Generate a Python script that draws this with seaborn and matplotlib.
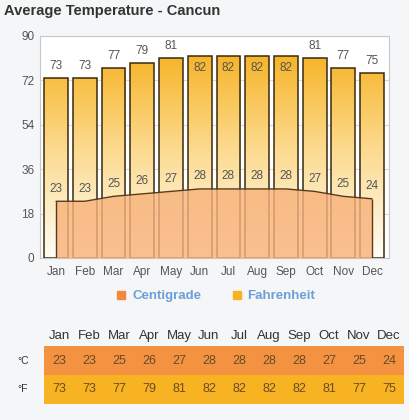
import numpy as np
import pandas as pd
import matplotlib
matplotlib.use("Agg")
import matplotlib.pyplot as plt
import seaborn as sns
from matplotlib.colors import LinearSegmentedColormap, ListedColormap
from matplotlib.lines import Line2D

months = ["Jan", "Feb", "Mar", "Apr", "May", "Jun", "Jul", "Aug", "Sep", "Oct", "Nov", "Dec"]
celsius = [23, 23, 25, 26, 27, 28, 28, 28, 28, 27, 25, 24]
fahrenheit = [73, 73, 77, 79, 81, 82, 82, 82, 82, 81, 77, 75]
yticks = [0, 18, 36, 54, 72, 90]
title = "Average Temperature - Cancun"

sns.set_theme(style="white")
plt.rcParams["font.family"] = ["Liberation Sans", "DejaVu Sans"]

BG = "#f5f6f7"
fig = plt.figure(figsize=(4.1, 4.2), dpi=100, facecolor=BG)
ax = fig.add_axes([40 / 410, 1 - 258 / 420, (389 - 40) / 410, (258 - 36) / 420])
ax.set_facecolor("white")

df = pd.DataFrame({"month": months, "C": celsius, "F": fahrenheit})
sns.barplot(data=df, x="month", y="F", ax=ax, color="#f6b21f", width=0.83,
            edgecolor="#3a2a10", linewidth=1.1, saturation=1, zorder=2)

# gradient fill for bars
grad_cmap = LinearSegmentedColormap.from_list("g", ["#fffdf6", "#fcd98c", "#f5ad14"])
gradient = np.linspace(0, 1, 256).reshape(-1, 1)
for p in ax.patches:
    im = ax.imshow(gradient, cmap=grad_cmap, origin="lower", aspect="auto",
                   extent=[-1, 12, 0, 90], zorder=2.1)
    im.set_clip_path(p)
    p.set_facecolor("none")
    p.set_zorder(2.2)

x = np.arange(len(months))
ax.fill_between(x, 0, celsius, color="#f8b27a", alpha=0.82, zorder=3, linewidth=0)
sns.lineplot(x=x, y=celsius, ax=ax, color="#5a3a1a", linewidth=1.0, zorder=4)
ax.vlines([x[0], x[-1]], 0, [celsius[0], celsius[-1]], color="#5a3a1a", linewidth=1.0, zorder=4)

for xi, v in zip(x, fahrenheit):
    off = -8.5 if v >= 82 else 8.5
    ax.annotate(str(v), (xi, v), xytext=(0, off), textcoords="offset points",
                ha="center", va="center", fontsize=8.5, color="#555555", zorder=5)
for xi, v in zip(x, celsius):
    ax.annotate(str(v), (xi, v), xytext=(0, 9), textcoords="offset points",
                ha="center", va="center", fontsize=8.5, color="#555555", zorder=5)

ax.set_xlim(-0.56, 11.59)
ax.set_ylim(0, 90)
ax.set_yticks(yticks)
ax.yaxis.grid(True, color="#d9d9d9", linewidth=0.8, zorder=0)
ax.set_axisbelow(True)
ax.set_xlabel("")
ax.set_ylabel("")
ax.tick_params(axis="both", length=0, labelsize=8.5, labelcolor="#555555")
ax.tick_params(axis="x", pad=6)
ax.tick_params(axis="y", pad=4)
for s in ax.spines.values():
    s.set_color("#c4c8cc")
    s.set_linewidth(0.8)

fig.text(4 / 410, 1 - 11 / 420, title, fontsize=10.5, fontweight="bold", color="#333333",
         ha="left", va="center")

handles = [Line2D([], [], marker="s", linestyle="none", markersize=6,
                  markerfacecolor="#f08a3c", markeredgecolor="#f08a3c"),
           Line2D([], [], marker="s", linestyle="none", markersize=6,
                  markerfacecolor="#f6b21f", markeredgecolor="#f6b21f")]
leg = fig.legend(handles, ["Centigrade", "Fahrenheit"], loc="center",
                 bbox_to_anchor=(215 / 410, 1 - 296 / 420), ncol=2, frameon=False,
                 handletextpad=0.3, columnspacing=2.2, handlelength=1.0,
                 prop={"weight": "bold", "size": 9.5})
for t in leg.get_texts():
    t.set_color("#6d9fd6")

# table
tax = fig.add_axes([44 / 410, 1 - 404 / 420, (404 - 44) / 410, (404 - 346) / 420])
colors_idx = np.array([[0] * 12, [1] * 12])
annot = np.array([celsius, fahrenheit])
sns.heatmap(colors_idx, ax=tax, cmap=ListedColormap(["#f39240", "#f8b322"]), cbar=False,
            annot=annot, fmt="d", annot_kws={"fontsize": 9, "color": "#6a4a28"},
            xticklabels=months, yticklabels=["°C", "°F"], linewidths=0)
tax.xaxis.tick_top()
tax.tick_params(axis="x", length=0, labelsize=9.5, labelcolor="#333333", pad=3)
tax.tick_params(axis="y", length=0, labelsize=7.5, labelcolor="#333333", rotation=0)
for lab in tax.get_yticklabels():
    lab.set_ha("left")
tax.tick_params(axis="y", pad=19)

fig.savefig("out.png", dpi=100, facecolor=BG)
